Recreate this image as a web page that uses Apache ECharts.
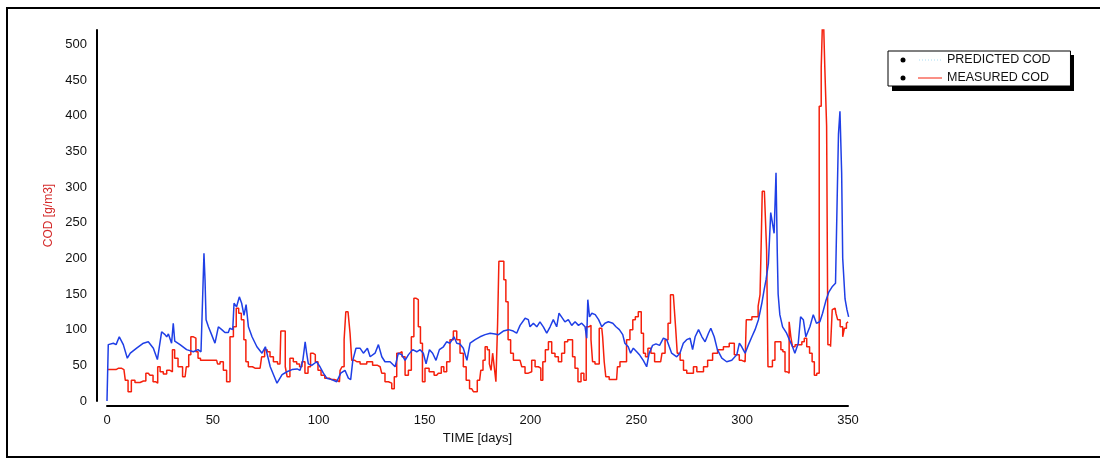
<!DOCTYPE html>
<html>
<head>
<meta charset="utf-8">
<title>COD</title>
<script src="https://cdn.jsdelivr.net/npm/echarts@6/dist/echarts.min.js"></script>
<style>
  html, body { margin: 0; padding: 0; background: #fff; }
  #chart { width: 1100px; height: 459px; }
</style>
</head>
<body>
<div id="chart"></div>
<script>
// 坐标轴刻度
const xTicks = [0, 50, 100, 150, 200, 250, 300, 350];
const yTicks = [0, 50, 100, 150, 200, 250, 300, 350, 400, 450, 500];

// PREDICTED COD (天, g/m3)
const predictedDays = [
  0, 0.6, 3, 4.3, 5.8, 7.7, 9.6, 11, 14, 17.2, 19.5, 21.9, 23.8, 25.8, 27.4, 28.2, 29, 30.5, 31.3, 32,
  34.5, 37.6, 40.8, 43, 44.4, 45.8, 46.3, 46.8, 47.9, 49.4, 51, 52.6, 54.2, 55.7, 57.3, 58, 59.4, 60, 61.2, 62.5,
  63.6, 64.7, 65.7, 66.8, 68.5, 70.8, 73.2, 74.8, 77.1, 80.3, 82.7, 85, 87.4, 89.8, 91.2, 92.5, 93.6, 94.3, 95.1, 96.7,
  99, 100.6, 102.2, 103.8, 106.1, 108.5, 110.4, 112.4, 114, 115.1, 116.1, 117.6, 119.5, 121.1, 123, 124.3, 126.6, 128.2, 129.8, 131.3,
  133.7, 136.1, 137.6, 139.2, 140.8, 142.4, 144.4, 146.3, 147.9, 149.4, 150.7, 152.3, 153.8, 155.4, 157, 158.9, 160.4, 162, 163.9, 165.2,
  166.7, 168.3, 170, 171.5, 173.9, 176.2, 178.6, 181, 183.3, 184.9, 187.2, 189.6, 191.9, 193.5, 195.1, 197.5, 199, 199.8, 201.4, 203,
  204.5, 206.1, 207.7, 209.3, 210.8, 212.4, 213.5, 214.7, 216.3, 217.9, 219.5, 221.1, 222.7, 224.2, 225.8, 226.6, 227.1, 227.9, 229, 230.6,
  232.2, 233.7, 235.2, 236.8, 238.9, 240.4, 242, 243.6, 244.6, 246.2, 247.3, 248.6, 250.2, 251.7, 253.3, 254.9, 256.1, 257.7, 259.3, 261,
  262.8, 264.4, 265.6, 266.7, 269.1, 270.6, 272.2, 273.8, 275.4, 276.6, 277.8, 279.4, 281, 282.5, 284.1, 285.2, 286.8, 288.3, 290.4, 292.7,
  295.1, 297.5, 298.7, 299.8, 301.4, 303, 304.6, 306.1, 307.7, 309.3, 310.4, 311.3, 312.4, 313.5, 314.2, 315.1, 316, 316.6, 317, 317.8,
  319.1, 321, 322.3, 323.8, 324.9, 326.5, 327.6, 328.9, 330.1, 332, 333.6, 335.1, 336.7, 338, 339.5, 341, 342.5, 344.1, 345, 345.5,
  346.2, 347, 347.5, 348.6, 349.5, 350.3
];
const predictedCod = [
  0, 79, 81, 79, 90, 79, 60, 67, 74, 81, 83, 74, 58, 97, 93, 90, 94, 81, 109, 84,
  79, 72, 69, 72, 69, 207, 170, 114, 104, 93, 81, 104, 100, 96, 96, 102, 100, 137, 132, 146,
  137, 120, 135, 104, 90, 76, 67, 76, 48, 25, 37, 41, 44, 45, 43, 57, 83, 67, 52, 50,
  55, 48, 39, 32, 30, 27, 39, 43, 32, 30, 57, 74, 74, 67, 74, 62, 67, 79, 62, 55,
  55, 48, 67, 65, 57, 65, 72, 69, 72, 67, 52, 72, 67, 57, 72, 76, 83, 81, 90, 81,
  80, 74, 57, 81, 86, 90, 93, 95, 94, 93, 98, 100, 98, 95, 106, 116, 114, 104, 109, 104,
  111, 104, 95, 104, 114, 104, 123, 118, 111, 114, 106, 111, 106, 109, 104, 88, 142, 118, 123, 121,
  114, 104, 109, 111, 109, 104, 100, 93, 81, 76, 67, 74, 69, 64, 57, 48, 67, 78, 80, 78,
  88, 86, 76, 67, 62, 67, 81, 86, 88, 72, 90, 100, 90, 83, 95, 102, 90, 72, 60, 55,
  57, 65, 81, 76, 67, 79, 90, 100, 114, 137, 156, 170, 193, 264, 264, 235, 320, 207, 150, 121,
  104, 95, 86, 76, 67, 81, 118, 114, 90, 104, 121, 109, 111, 123, 140, 153, 160, 165, 301, 374,
  406, 320, 200, 143, 128, 118
];

// MEASURED COD (天, g/m3)
const measuredDays = [
  0, 3, 5.5, 8, 9.3, 10.6, 12.4, 14, 17.2, 19.5, 21.1, 22.4, 23.5, 24.4, 25.8, 27.4, 29, 30.5, 31.3, 32.6,
  34.5, 36.9, 38, 39.2, 40, 41.6, 42.4, 43.6, 44.7, 51.8, 52.6, 54.2, 55.7, 57.3, 58.9, 60.5, 61.6, 62.8, 64.1, 65.2,
  66, 67.5, 69.9, 72.3, 73.8, 75.1, 76.2, 77.8, 79.4, 81.7, 82.5, 83.8, 84.6, 85.6, 87.2, 88.8, 90.4, 91.5, 92.7, 94.3,
  95.6, 96.7, 97.8, 99, 100.3, 101.9, 103.8, 106.1, 108.5, 109.8, 110.4, 111.6, 112.4, 113.2, 114.5, 115.1, 116.1, 118, 121.1, 124.3,
  126.6, 129, 130.5, 132.1, 133.7, 135.3, 136.1, 137.6, 138.7, 140, 141.6, 143.1, 144.4, 145.5, 146.6, 147.5, 148.6, 149.4, 151, 153.3,
  155.7, 157.3, 158.5, 159.7, 161.2, 162.8, 164.4, 166, 167.5, 169.1, 170.2, 172.3, 173.8, 176, 177.1, 178.1, 179.1, 180.2, 181, 181.8,
  182.5, 183.3, 184.1, 184.9, 185.3, 186.9, 188, 188.8, 190.1, 191.2, 192.7, 195.1, 196.7, 198.2, 199.8, 201.4, 203, 204.5, 205.3, 206.4,
  207.7, 209.3, 210.8, 212.4, 214, 215.5, 216.8, 218.4, 219.5, 220.3, 221.8, 223.1, 224.7, 225.8, 226.9, 228.2, 229, 229.7, 231.3, 233.7,
  234.5, 235.2, 236, 238.4, 240.7, 241.5, 243.1, 244.6, 246.2, 247.8, 248.9, 250.2, 251.7, 253, 253.8, 254.9, 256.1, 257.7, 259.6, 261.5,
  262.8, 264.4, 265.6, 266.7, 268.3, 268.8, 269.9, 271.5, 273.1, 274.6, 276.2, 277.8, 279.4, 281, 282.5, 284.9, 287.2, 289.6, 292.7, 295.1,
  297.5, 299.8, 301.4, 302.5, 303.8, 305.4, 306.9, 308.2, 308.7, 309.3, 309.7, 311.3, 311.8, 312.6, 313.9, 314.7, 316.3, 317.9, 318.7, 319.8,
  320.7, 321.8, 322.6, 323.4, 324.2, 325.8, 327.4, 329, 329.7, 331.3, 332.4, 333.7, 334.5, 336, 336.8, 337.9, 338.5, 339.6, 340.2, 340.8,
  341.2, 342.3, 342.8, 343.9, 344.7, 345.5, 347.1, 347.9, 348.7, 349.8, 350.3
];
const measuredCod = [
  44, 44, 46, 44, 29, 13, 29, 26, 28, 39, 36, 27, 25, 48, 41, 38, 43, 41, 72, 60,
  48, 34, 48, 65, 90, 88, 69, 60, 57, 57, 52, 55, 43, 27, 90, 104, 130, 123, 114, 86,
  55, 48, 46, 46, 62, 72, 69, 62, 55, 52, 98, 98, 48, 34, 60, 55, 52, 48, 55, 39,
  48, 67, 65, 55, 43, 36, 32, 30, 29, 27, 43, 48, 86, 125, 123, 95, 57, 55, 52, 55,
  50, 48, 39, 27, 25, 17, 34, 67, 69, 62, 36, 43, 90, 144, 142, 104, 81, 27, 46, 41,
  36, 39, 48, 41, 55, 86, 98, 86, 67, 48, 29, 17, 13, 29, 43, 57, 76, 72, 52, 43,
  67, 48, 27, 109, 196, 196, 170, 139, 86, 67, 57, 57, 48, 39, 41, 57, 48, 46, 29, 55,
  72, 83, 67, 62, 55, 67, 83, 86, 86, 62, 46, 27, 39, 29, 104, 106, 86, 55, 52, 102,
  90, 55, 34, 30, 30, 48, 55, 55, 86, 100, 114, 118, 125, 95, 67, 62, 74, 67, 55, 55,
  67, 86, 109, 149, 149, 104, 67, 57, 43, 39, 39, 48, 41, 41, 48, 57, 67, 72, 76, 81,
  65, 57, 55, 114, 114, 118, 118, 133, 149, 221, 294, 294, 212, 48, 48, 57, 83, 83, 72, 69,
  41, 39, 111, 90, 76, 79, 79, 83, 88, 76, 67, 55, 36, 39, 413, 467, 560, 467, 385, 79,
  79, 76, 128, 130, 123, 114, 104, 90, 102, 109, 111
];

const chart = echarts.init(document.getElementById('chart'));

const zip = (xs, ys) => xs.map((x, i) => [x, ys[i]]);
const axisFont = { fontFamily: 'Liberation Sans, Arial, sans-serif', fontSize: 13, color: '#111' };

const option = {
  animation: false,
  backgroundColor: '#fff',
  grid: { left: 107, right: 252, top: 30, bottom: 58 },
  xAxis: {
    type: 'value',
    min: 0,
    max: 350,
    interval: 50,
    offset: 5,
    name: 'TIME [days]',
    nameLocation: 'middle',
    nameGap: 26,
    nameTextStyle: axisFont,
    axisLine: { show: true, onZero: false, lineStyle: { color: '#000', width: 2 } },
    axisTick: { show: false },
    splitLine: { show: false },
    axisLabel: {
      ...axisFont,
      margin: 8,
      formatter: v => (xTicks.includes(v) ? String(v) : '')
    }
  },
  yAxis: {
    type: 'value',
    min: 0,
    max: 520,
    interval: 50,
    offset: 10,
    name: 'COD [g/m3]',
    nameLocation: 'middle',
    nameRotate: 90,
    nameGap: 30,
    nameTextStyle: { fontFamily: 'Liberation Sans, Arial, sans-serif', fontSize: 12, color: '#d42a2a' },
    axisLine: { show: true, onZero: false, lineStyle: { color: '#000', width: 2 } },
    axisTick: { show: false },
    splitLine: { show: false },
    axisLabel: {
      ...axisFont,
      margin: 10,
      formatter: v => (yTicks.includes(v) ? String(v) : '')
    }
  },
  legend: {
    orient: 'vertical',
    left: 888,
    top: 51,
    padding: [2, 20, 2, 30],
    itemGap: 5,
    itemWidth: 24,
    itemHeight: 13,
    icon: 'none',
    backgroundColor: '#fff',
    borderColor: '#000',
    borderWidth: 1,
    borderRadius: 0,
    selectedMode: false,
    textStyle: { fontFamily: 'Liberation Sans, Arial, sans-serif', fontSize: 12.5, color: '#111' },
    data: ['PREDICTED COD', 'MEASURED COD']
  },
  graphic: [
    // 外框
    { type: 'polyline', shape: { points: [[1100, 8], [7, 8], [7, 457], [1100, 457]] }, style: { stroke: '#000', lineWidth: 2, fill: null }, z: 100 },
    // 图例阴影
    { type: 'rect', shape: { x: 892, y: 55, width: 182, height: 36 }, style: { fill: '#000' }, z: 0 },
    // 图例圆点和线
    { type: 'circle', shape: { cx: 903, cy: 60, r: 2.5 }, style: { fill: '#000' }, z: 100 },
    { type: 'circle', shape: { cx: 903, cy: 78, r: 2.5 }, style: { fill: '#000' }, z: 100 },
    { type: 'line', shape: { x1: 919, y1: 60, x2: 941, y2: 60 }, style: { stroke: '#a9dcf2', lineWidth: 1, lineDash: [1, 2] }, z: 100 },
    { type: 'line', shape: { x1: 918, y1: 78, x2: 942, y2: 78 }, style: { stroke: '#f5200c', lineWidth: 1 }, z: 100 }
  ],
  series: [
    {
      name: 'PREDICTED COD',
      type: 'line',
      symbol: 'none',
      z: 3,
      lineStyle: { color: '#1f3fe6', width: 1.5 },
      itemStyle: { color: '#1f3fe6' },
      data: zip(predictedDays, predictedCod)
    },
    {
      name: 'MEASURED COD',
      type: 'line',
      step: 'middle',
      symbol: 'none',
      z: 2,
      lineStyle: { color: '#f5200c', width: 1.5 },
      itemStyle: { color: '#f5200c' },
      data: zip(measuredDays, measuredCod)
    }
  ]
};

chart.setOption(option);
</script>
</body>
</html>
